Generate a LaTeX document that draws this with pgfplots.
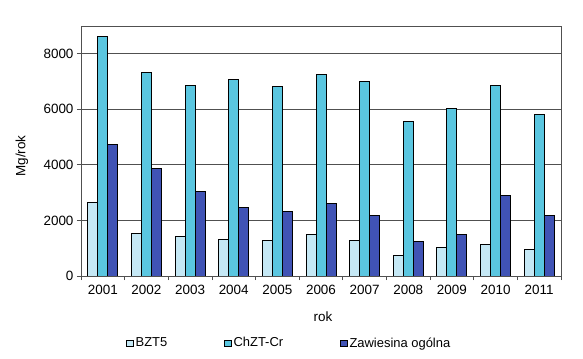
\documentclass[border=0pt]{standalone}
\usepackage{pgfplots}
\pgfplotsset{compat=1.18}
\usepackage{fontspec}
\setmainfont{Liberation Sans}
\definecolor{cA}{HTML}{C5E8F5}
\definecolor{cB}{HTML}{5AC6E0}
\definecolor{cC}{HTML}{4053B5}
\definecolor{frame}{HTML}{505050}
\begin{document}
\begin{tikzpicture}
\useasboundingbox (0,0) rectangle (583bp,359bp);
\begin{axis}[
  at={(81bp,83bp)}, anchor=south west,
  scale only axis, width=480bp, height=250bp,
  xmin=-0.5, xmax=10.5, ymin=0, ymax=9000,
  ybar=0pt, bar width=10bp,
  xtick={-0.5,0.5,...,10.5},
  x tick label as interval,
  xticklabels={2001,2002,2003,2004,2005,2006,2007,2008,2009,2010,2011},
  ytick={0,2000,4000,6000,8000},
  tick align=outside, major tick length=4bp,
  xtick pos=bottom, ytick pos=left,
  ymajorgrids, grid style={draw=frame, line width=0.9pt},
  axis line style={draw=frame, line width=0.9pt},
  tick style={draw=frame, line width=0.8pt},
  /pgf/number format/assume math mode=true,
  scaled y ticks=false,
  yticklabel style={/pgf/number format/1000 sep={}},
  ticklabel style={font=\fontsize{13.5}{15}\selectfont},
  xticklabel style={yshift=-2bp},
  xlabel={rok}, ylabel={Mg/rok},
  every axis x label/.style={at={(axis description cs:0.504,-0.164)}, anchor=center, font=\fontsize{13.5}{15}\selectfont},
  every axis y label/.style={at={(axis description cs:-0.123,0.48)}, rotate=90, anchor=center, font=\fontsize{13.5}{15}\selectfont},
  legend columns=3,
  legend style={at={(axis description cs:0.434,-0.268)}, anchor=center, draw=none,
    font=\fontsize{13}{15}\selectfont,
    /tikz/every even column/.append style={column sep=55bp}},
  legend image code/.code={\draw[#1, line width=0.8pt] (0bp,-3bp) rectangle (6.5bp,3bp);},
]
\addplot[fill=cA, draw=black, line width=0.9pt] coordinates {
(0,2650) (1,1540) (2,1430) (3,1320) (4,1290) (5,1490) (6,1270) (7,750) (8,1030) (9,1130) (10,950)};
\addplot[fill=cB, draw=black, line width=0.9pt] coordinates {
(0,8610) (1,7330) (2,6850) (3,7060) (4,6840) (5,7270) (6,7010) (7,5570) (8,6030) (9,6850) (10,5820)};
\addplot[fill=cC, draw=black, line width=0.9pt] coordinates {
(0,4730) (1,3870) (2,3030) (3,2460) (4,2330) (5,2610) (6,2170) (7,1230) (8,1510) (9,2900) (10,2180)};
\legend{BZT5, ChZT-Cr, Zawiesina ogólna}
\end{axis}
\end{tikzpicture}
\end{document}
